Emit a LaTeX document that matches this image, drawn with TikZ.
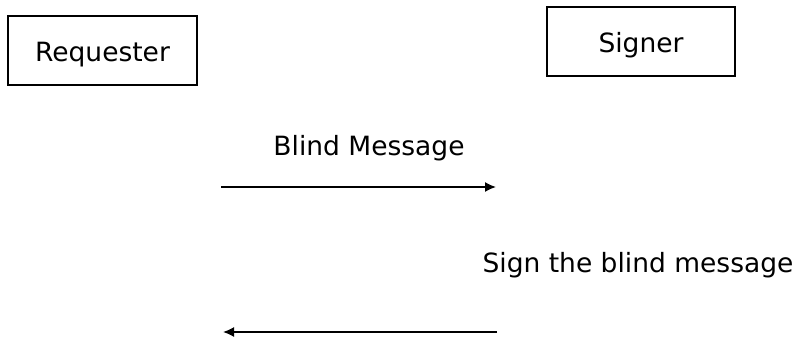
\documentclass[tikz,border=0pt]{standalone}
\usepackage{fontspec}
\setmainfont{DejaVu Sans}
\usetikzlibrary{arrows.meta}
\tikzset{
  party/.style={draw,line width=1.3pt,minimum height=69pt,inner sep=0pt,
    font=\fontsize{26.5}{30}\selectfont,text height=29pt,text depth=6.5pt},
  msg/.style={inner sep=0pt,font=\fontsize{26.5}{30}\selectfont,
    text height=29pt,text depth=6.5pt},
  flow/.style={line width=1.6pt,-{Latex[length=11pt,width=10pt]}}
}
\begin{document}
\begin{tikzpicture}[x=1pt,y=-1pt]
     \useasboundingbox (0,0) rectangle (800,340);
     \node[party,minimum width=189pt] (req) at (102.5,50.5) {Requester};
     \node[party,minimum width=188pt] (sig) at (641,41.5) {Signer};
     \node[msg] (blind) at (369,144.5) {Blind Message};
     \node[msg] (sign) at (638,261.5) {Sign the blind message};
     % request and reply
     \coordinate (a1) at (221,187);
     \coordinate (b1) at (496,187);
     \coordinate (a2) at (497,332);
     \coordinate (b2) at (223,332);
     \draw[flow] (a1) -- (b1);
     \draw[flow] (a2) -- (b2);
   \end{tikzpicture}
\end{document}
